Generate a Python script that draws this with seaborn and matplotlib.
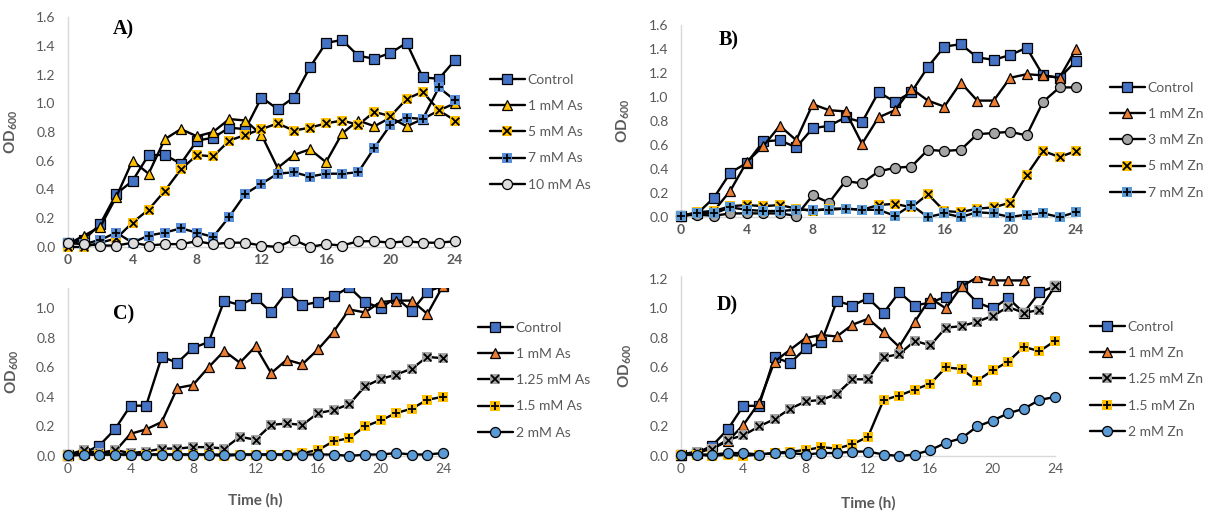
import numpy as np
import pandas as pd
import matplotlib
matplotlib.use("Agg")
import matplotlib.pyplot as plt
import seaborn as sns
from matplotlib.lines import Line2D
from matplotlib.patches import Rectangle
from matplotlib.legend_handler import HandlerTuple

hours = list(range(25))

# Panel A (As)
a_labels = ["Control", "1 mM As", "5 mM As", "7 mM As", "10 mM As"]
a_control = [0.03,0.05,0.16,0.37,0.46,0.64,0.64,0.58,0.74,0.76,0.83,0.82,1.04,0.96,1.04,1.25,1.42,1.44,1.33,1.31,1.35,1.42,1.18,1.17,1.30]
a_1mM = [0.02,0.08,0.14,0.35,0.60,0.51,0.75,0.82,0.77,0.80,0.89,0.88,0.78,0.55,0.64,0.68,0.59,0.79,0.88,0.84,0.90,0.84,0.89,0.95,1.00]
a_5mM = [0.00,0.00,0.03,0.06,0.17,0.26,0.39,0.54,0.64,0.63,0.74,0.78,0.82,0.86,0.81,0.83,0.86,0.88,0.85,0.94,0.91,1.03,1.08,0.95,0.88]
a_7mM = [0.03,0.02,0.05,0.10,0.03,0.08,0.10,0.13,0.10,0.07,0.21,0.37,0.44,0.51,0.52,0.49,0.51,0.51,0.52,0.69,0.85,0.90,0.89,1.11,1.02]
a_10mM = [0.03,0.02,0.01,0.01,0.03,0.01,0.02,0.02,0.04,0.02,0.03,0.03,0.01,0.00,0.05,0.00,0.02,0.01,0.04,0.04,0.03,0.04,0.03,0.03,0.04]

# Panel B (Zn)
b_labels = ["Control", "1 mM Zn", "3 mM Zn", "5 mM Zn", "7 mM Zn"]
b_control = [0.01,0.03,0.16,0.37,0.45,0.63,0.64,0.58,0.74,0.76,0.83,0.79,1.04,0.96,1.04,1.25,1.42,1.44,1.33,1.31,1.35,1.41,1.18,1.16,1.30]
b_1mM = [0.01,0.03,0.05,0.22,0.46,0.59,0.76,0.64,0.94,0.89,0.88,0.61,0.83,0.89,1.07,0.97,0.92,1.12,0.97,0.97,1.16,1.19,1.18,1.16,1.40]
b_3mM = [0.01,0.02,0.01,0.03,0.03,0.03,0.03,0.01,0.18,0.12,0.30,0.28,0.38,0.41,0.42,0.56,0.55,0.56,0.69,0.70,0.71,0.68,0.96,1.08,1.08]
b_5mM = [0.01,0.04,0.05,0.09,0.10,0.09,0.10,0.07,0.05,0.07,0.07,0.06,0.10,0.11,0.08,0.19,0.05,0.04,0.07,0.08,0.12,0.35,0.55,0.50,0.55]
b_7mM = [0.01,0.03,0.03,0.08,0.06,0.05,0.05,0.06,0.06,0.06,0.07,0.06,0.06,0.01,0.10,0.00,0.03,0.00,0.04,0.03,0.00,0.02,0.03,0.00,0.04]

# Panel C (As, low doses)
c_labels = ["Control", "1 mM As", "1.25 mM As", "1.5 mM As", "2 mM As"]
c_control = [0.01,0.02,0.07,0.18,0.34,0.34,0.67,0.63,0.73,0.77,1.05,1.02,1.07,0.97,1.11,1.02,1.04,1.08,1.14,1.04,1.00,1.07,0.98,1.11,1.15]
c_1mM = [0.01,0.02,0.02,0.03,0.15,0.18,0.23,0.46,0.48,0.60,0.71,0.63,0.74,0.56,0.65,0.62,0.72,0.84,0.99,0.97,1.04,1.05,1.05,0.96,1.15]
c_125mM = [0.01,0.04,0.02,0.04,0.02,0.03,0.05,0.05,0.06,0.06,0.05,0.13,0.11,0.21,0.22,0.21,0.29,0.31,0.35,0.47,0.52,0.55,0.59,0.67,0.66]
c_15mM = [0.00,0.01,0.01,0.01,0.01,0.01,0.01,0.01,0.01,0.01,0.00,0.01,0.01,0.01,0.01,0.02,0.04,0.10,0.12,0.20,0.24,0.29,0.32,0.38,0.40]
c_2mM = [0.01,0.01,0.01,0.01,0.01,0.01,0.01,0.01,0.01,0.01,0.01,0.01,0.01,0.01,0.01,0.01,0.01,0.01,0.00,0.01,0.01,0.02,0.01,0.01,0.02]

# Panel D (Zn, low doses)
d_labels = ["Control", "1 mM Zn", "1.25 mM Zn", "1.5 mM Zn", "2 mM Zn"]
d_control = [0.01,0.02,0.07,0.18,0.34,0.34,0.67,0.63,0.73,0.77,1.05,1.02,1.07,0.97,1.11,1.02,1.04,1.08,1.15,1.04,1.00,1.07,0.97,1.11,1.15]
d_1mM = [0.01,0.02,0.05,0.10,0.21,0.36,0.64,0.72,0.80,0.82,0.81,0.89,0.93,0.84,0.74,0.91,1.07,1.00,1.15,1.21,1.19,1.19,1.19,1.27,1.30]
d_125mM = [0.01,0.03,0.05,0.11,0.14,0.20,0.25,0.32,0.37,0.38,0.42,0.52,0.52,0.67,0.69,0.78,0.75,0.87,0.88,0.91,0.95,1.01,0.97,0.99,1.15]
d_15mM = [0.01,0.01,0.00,0.01,0.00,0.01,0.02,0.03,0.04,0.06,0.05,0.08,0.13,0.38,0.41,0.45,0.49,0.60,0.59,0.51,0.58,0.64,0.74,0.71,0.78]
d_2mM = [0.01,0.01,0.01,0.02,0.02,0.01,0.02,0.02,0.01,0.02,0.02,0.03,0.03,0.01,0.00,0.01,0.04,0.09,0.12,0.20,0.24,0.29,0.32,0.38,0.40]

x_ticks = [0, 4, 8, 12, 16, 20, 24]

sns.set_theme(style="white")
plt.rcParams['font.family'] = ['Lato', 'DejaVu Sans']
plt.rcParams['mathtext.fontset'] = 'custom'
plt.rcParams['mathtext.bf'] = 'Lato:bold'
plt.rcParams['mathtext.rm'] = 'Lato'

GRAY_TXT = '#595959'
AXIS_LINE = '#D9D9D9'
BLUE = '#4472C4'
YELLOW = '#FFC000'
ORANGE = '#ED7D31'
GRAY = '#A5A5A5'
LBLUE = '#5B9BD5'
MBLUE = '#5A8ED6'
LIGHT = '#DCDCDC'

# style: (base marker, face colour, overlay marker or None)
ST = {
    'sq_blue': ('s', BLUE, None),
    'tri_yellow': ('^', YELLOW, None),
    'tri_orange': ('^', ORANGE, None),
    'x_yellow': ('s', YELLOW, 'x'),
    'x_gray': ('s', GRAY, 'x'),
    'plus_blue': ('s', MBLUE, '+'),
    'plus_lblue': ('s', LBLUE, '+'),
    'plus_yellow': ('s', YELLOW, '+'),
    'circ_light': ('o', LIGHT, None),
    'circ_gray': ('o', GRAY, None),
    'circ_lblue': ('o', LBLUE, None),
}

W, H = 1207, 512
fig = plt.figure(figsize=(W / 100, H / 100), dpi=100)

def rect(x0, y0, x1, y1):
    return [x0 / W, 1 - y1 / H, (x1 - x0) / W, (y1 - y0) / H]

panels = [
    dict(rect=rect(68, 17, 455, 247), ylim=1.6, yticks=np.arange(0, 1.61, 0.2),
         series=[a_control, a_1mM, a_5mM, a_7mM, a_10mM], labels=a_labels,
         styles=['sq_blue', 'tri_yellow', 'x_yellow', 'plus_blue', 'circ_light'],
         tag='A)', tagxy=(113, 34), bold_x=True, leg=(490, 74), xlabel=False),
    dict(rect=rect(681, 25, 1076, 217), ylim=1.6, yticks=np.arange(0, 1.61, 0.2),
         series=[b_control, b_1mM, b_3mM, b_5mM, b_7mM], labels=b_labels,
         styles=['sq_blue', 'tri_orange', 'circ_gray', 'x_yellow', 'plus_lblue'],
         tag='B)', tagxy=(719, 45), bold_x=True, leg=(1110, 82), xlabel=False),
    dict(rect=rect(68, 288, 443, 456), ylim=1.135, yticks=np.arange(0, 1.01, 0.2),
         series=[c_control, c_1mM, c_125mM, c_15mM, c_2mM], labels=c_labels,
         styles=['sq_blue', 'tri_orange', 'x_gray', 'plus_yellow', 'circ_lblue'],
         tag='C)', tagxy=(113, 319), bold_x=False, leg=(478, 322), xlabel=True),
    dict(rect=rect(681, 276, 1055, 456), ylim=1.22, yticks=np.arange(0, 1.21, 0.2),
         series=[d_control, d_1mM, d_125mM, d_15mM, d_2mM], labels=d_labels,
         styles=['sq_blue', 'tri_orange', 'x_gray', 'plus_yellow', 'circ_lblue'],
         tag='D)', tagxy=(717, 310), bold_x=False, leg=(1090, 321), xlabel=True),
]

MS = 7.2

for p in panels:
    ax = fig.add_axes(p['rect'])
    handles = []
    for i, (vals, lab, stk) in enumerate(zip(p['series'], p['labels'], p['styles'])):
        base, face, over = ST[stk]
        df = pd.DataFrame({'t': hours, 'od': vals})
        z = 3 + i
        ms = MS if base != '^' else MS - 0.2
        if over is None:
            sns.lineplot(data=df, x='t', y='od', ax=ax, color='black', lw=1.7,
                         marker=base, markersize=ms, markerfacecolor=face,
                         markeredgecolor='black', markeredgewidth=0.9, zorder=z)
            h = Line2D([], [], color='black', lw=1.7, marker=base, markersize=ms,
                       markerfacecolor=face, markeredgecolor='black', markeredgewidth=0.9)
        else:
            sns.lineplot(data=df, x='t', y='od', ax=ax, color='black', lw=1.7,
                         marker=base, markersize=ms, markerfacecolor=face,
                         markeredgecolor=face, markeredgewidth=0.0, zorder=z)
            sns.scatterplot(data=df, x='t', y='od', ax=ax, marker=over, color='black',
                            s=30, linewidth=1.3, zorder=z + 0.5, legend=False)
            h1 = Line2D([], [], color='black', lw=1.7, marker=base, markersize=ms,
                        markerfacecolor=face, markeredgecolor=face, markeredgewidth=0)
            h2 = Line2D([], [], color='black', lw=0, marker=over, markersize=5.5,
                        markeredgewidth=1.3)
            h = (h1, h2)
        handles.append(h)

    ax.set_xlim(0, 24)
    ax.set_ylim(0, p['ylim'])
    ax.set_xticks(x_ticks)
    ax.set_yticks(p['yticks'])
    ax.set_yticklabels([f"{v:.1f}" for v in p['yticks']])
    ax.tick_params(axis='both', length=0, labelsize=10, labelcolor=GRAY_TXT)
    ax.tick_params(axis='y', pad=9)
    ax.tick_params(axis='x', pad=5)
    if p['bold_x']:
        for t in ax.get_xticklabels():
            t.set_fontweight('bold')
    for s in ['top', 'right']:
        ax.spines[s].set_visible(False)
    for s in ['left', 'bottom']:
        ax.spines[s].set_color(AXIS_LINE)
        ax.spines[s].set_linewidth(1.0)
    ax.set_xlabel('Time (h)' if p['xlabel'] else '', fontsize=11, fontweight='bold', color=GRAY_TXT)
    ax.set_ylabel(r'$\mathbf{OD_{600}}$', fontsize=11, color=GRAY_TXT)
    ax.yaxis.set_label_coords(-0.125, 0.5)
    if p['xlabel']:
        ax.xaxis.set_label_coords(0.5, -0.22)
    ax.patch.set_alpha(0)

    # clip only at the top of the plotting area (markers on the axes stay whole)
    clip = Rectangle((-0.05, -0.1), 1.1, 1.1, transform=ax.transAxes, facecolor='none', edgecolor='none')
    ax.add_patch(clip)
    for art in list(ax.lines) + list(ax.collections):
        art.set_clip_path(clip)

    fig.text(p['tagxy'][0] / W, 1 - p['tagxy'][1] / H, p['tag'], fontsize=14.5,
             fontweight='bold', family='Liberation Serif', color='black')

    lx, ly = p['leg']
    leg = fig.legend(handles, p['labels'], loc='upper left',
                     bbox_to_anchor=(lx / W, 1 - ly / H), frameon=False,
                     fontsize=10, handlelength=2.5, handletextpad=0.2,
                     labelspacing=1.02, borderpad=0, borderaxespad=0,
                     handler_map={tuple: HandlerTuple(ndivide=1, pad=0)})
    for t in leg.get_texts():
        t.set_color(GRAY_TXT)

fig.savefig('out.png', dpi=100)
